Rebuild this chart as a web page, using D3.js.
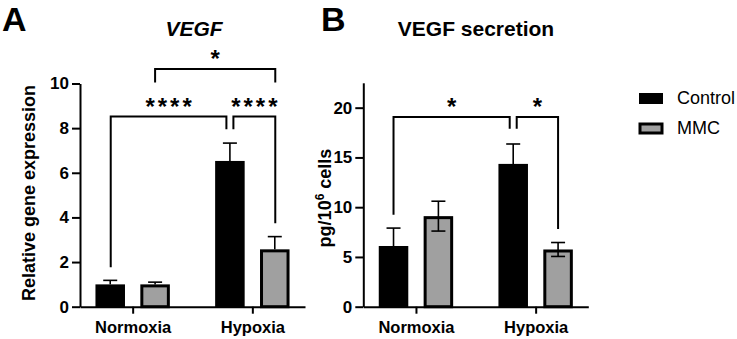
<!DOCTYPE html>
<html><head><meta charset="utf-8">
<script src="https://cdn.jsdelivr.net/npm/d3@7/dist/d3.min.js"></script>
<style>
html,body{margin:0;padding:0;background:#fff;}
svg{display:block;}
text{font-family:"Liberation Sans",Arial,sans-serif;}
</style>
</head><body>
<svg id="chart" width="737" height="339"></svg>
<script>
// ---- data ----
const groups = ["Normoxia", "Hypoxia"];
const series = ["Control", "MMC"];
const colors = ["#000000", "#a0a0a0"];

const geneMeans = [[1.0, 1.0], [6.53, 2.57]];      // [group][series]
const geneErrors = [[0.18, 0.1], [0.8, 0.57]];
const geneTicks = [0, 2, 4, 6, 8, 10];

const secMeans = [[6.1, 9.1], [14.35, 5.75]];
const secErrors = [[1.8, 1.5], [2.0, 0.7]];
const secTicks = [0, 5, 10, 15, 20];

// brackets: [fromGroup, fromSeries, toGroup, toSeries, barY, leftLegY, rightLegY, leftShift, rightShift, label]
const geneBrackets = [
  [0, 0, 1, 0, 8.52, 1.77, 7.95, 0.5, -3.5, "****"],
  [1, 0, 1, 1, 8.52, 7.95, 3.74, 3.5, 0.5, "****"],
  [0, 1, 1, 1, 10.65, 10.05, 10.05, 0, 0.5, "*"]
];
const secBrackets = [
  [0, 0, 1, 0, 19.07, 9.23, 17.87, 0, -3.5, "*"],
  [1, 0, 1, 1, 19.07, 17.87, 7.8, 3.5, 0, "*"]
];

const svg = d3.select("#chart");

function panel(cfg) {
  const g = svg.append("g");
  const x = d3.scalePoint().domain(groups).range([cfg.x0, cfg.x1]).padding(0.44);
  const xs = d3.scaleBand().domain(series).range([-37.2, 37.2]).paddingInner(0.342);
  const y = d3.scaleLinear().domain([0, cfg.yMax]).range([306.7, cfg.yTop]);

  // bars
  groups.forEach((gr, gi) => {
    series.forEach((s, si) => {
      const v = cfg.means[gi][si];
      const sw = si === 0 ? 2 : 3;
      const bx = x(gr) + xs(s);
      g.append("rect")
        .attr("x", bx + sw / 2)
        .attr("y", y(v) + sw / 2)
        .attr("width", xs.bandwidth() - sw)
        .attr("height", y(0) - y(v) - sw / 2)
        .attr("fill", colors[si])
        .attr("stroke", "#000")
        .attr("stroke-width", sw);
      const cx = bx + xs.bandwidth() / 2;
      const e = cfg.errors[gi][si];
      const lo = cfg.both ? v - e : v;
      g.append("line").attr("x1", cx).attr("x2", cx)
        .attr("y1", y(lo)).attr("y2", y(v + e))
        .attr("stroke", "#000").attr("stroke-width", 1.6);
      g.append("line").attr("x1", cx - 7).attr("x2", cx + 7)
        .attr("y1", y(v + e)).attr("y2", y(v + e))
        .attr("stroke", "#000").attr("stroke-width", 1.6);
      if (cfg.both) {
        g.append("line").attr("x1", cx - 7).attr("x2", cx + 7)
          .attr("y1", y(lo)).attr("y2", y(lo))
          .attr("stroke", "#000").attr("stroke-width", 1.6);
      }
    });
  });

  // y axis
  const ya = g.append("g").attr("transform", `translate(${cfg.x0},0)`)
    .call(d3.axisLeft(y).tickValues(cfg.ticks).tickSize(8).tickPadding(3).tickSizeOuter(0));
  ya.select(".domain").attr("stroke-width", 2);
  ya.selectAll(".tick line").attr("stroke-width", 2);
  ya.selectAll(".tick text").attr("font-size", 17).attr("font-weight", "bold")
    .attr("font-family", "Liberation Sans, Arial, sans-serif").attr("fill", "#000");

  // x axis
  const xa = g.append("g").attr("transform", `translate(0,${y(0)})`)
    .call(d3.axisBottom(x).tickSize(7).tickPadding(8).tickSizeOuter(0));
  xa.select(".domain").attr("stroke-width", 2);
  xa.selectAll(".tick line").attr("stroke-width", 2);
  xa.selectAll(".tick text").attr("font-size", 16.5).attr("font-weight", "bold")
    .attr("font-family", "Liberation Sans, Arial, sans-serif").attr("fill", "#000");

  // brackets
  cfg.brackets.forEach(b => {
    const xl = x(groups[b[0]]) + xs(series[b[1]]) + xs.bandwidth() / 2 + b[7];
    const xr = x(groups[b[2]]) + xs(series[b[3]]) + xs.bandwidth() / 2 + b[8];
    const path = d3.path();
    path.moveTo(xl, y(b[5]));
    path.lineTo(xl, y(b[4]));
    path.lineTo(xr, y(b[4]));
    path.lineTo(xr, y(b[6]));
    g.append("path").attr("d", path.toString()).attr("fill", "none")
      .attr("stroke", "#000").attr("stroke-width", 2);
    g.append("text").attr("x", (xl + xr) / 2 + (b[9].length > 1 ? 1.5 : 0)).attr("y", y(b[4]) - 15 + 13)
      .attr("text-anchor", "middle").attr("font-size", 24).attr("font-weight", "bold")
      .attr("letter-spacing", b[9].length > 1 ? 3 : 0)
      .text(b[9]);
  });

  // title
  g.append("text").attr("x", cfg.titleX).attr("y", 36).attr("text-anchor", "middle")
    .attr("font-size", 21).attr("font-weight", "bold")
    .attr("font-style", cfg.italic ? "italic" : "normal").text(cfg.title);

  // panel letter
  g.append("text").attr("x", cfg.letterX).attr("y", 31).attr("font-size", 34)
    .attr("font-weight", "bold").text(cfg.letter);

  return { g, x, y };
}

const pa = panel({
  x0: 80, x1: 305, yMax: 10, yTop: 83.5, ticks: geneTicks,
  means: geneMeans, errors: geneErrors, both: false, brackets: geneBrackets,
  title: "VEGF", italic: true, titleX: 194, letter: "A", letterX: 2
});
pa.g.append("text").attr("transform", "translate(35,193) rotate(-90)")
  .attr("text-anchor", "middle").attr("font-size", 18).attr("font-weight", "bold")
  .text("Relative gene expression");

const pb = panel({
  x0: 363.3, x1: 588.3, yMax: 22.5, yTop: 82.8, ticks: secTicks,
  means: secMeans, errors: secErrors, both: true, brackets: secBrackets,
  title: "VEGF secretion", italic: false, titleX: 476, letter: "B", letterX: 321
});
const yl = pb.g.append("text").attr("transform", "translate(331,198) rotate(-90)")
  .attr("text-anchor", "middle").attr("font-size", 18).attr("font-weight", "bold");
yl.append("tspan").text("pg/10");
yl.append("tspan").attr("dy", -7).attr("font-size", 12).text("6");
yl.append("tspan").attr("dy", 7).text(" cells");

// legend
const lg = svg.append("g");
series.forEach((s, i) => {
  const yy = 93 + i * 30;
  lg.append("rect").attr("x", 640).attr("y", yy + 1).attr("width", 22).attr("height", 9)
    .attr("fill", colors[i]).attr("stroke", "#000").attr("stroke-width", i === 0 ? 2 : 3);
  lg.append("text").attr("x", 677).attr("y", yy + 11).attr("font-size", 18).text(s);
});
</script>
</body></html>
